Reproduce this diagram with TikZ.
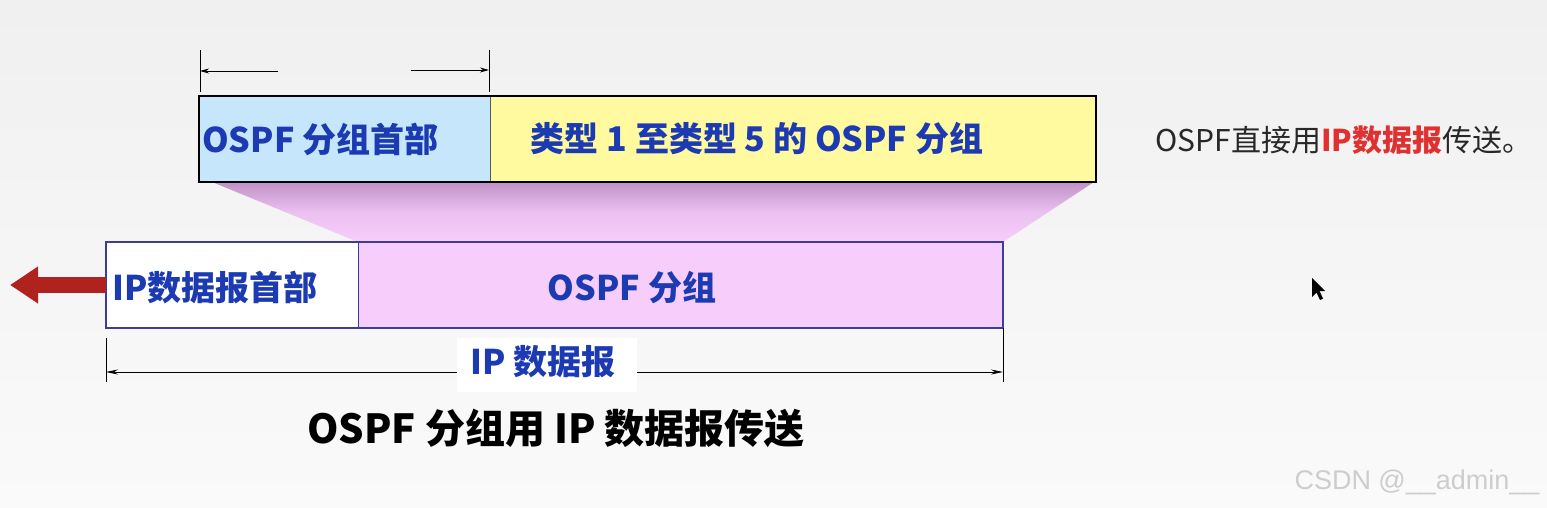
\documentclass[tikz,border=0pt]{standalone}
\usepackage{fontspec}
\setmainfont{Noto Sans CJK SC}
\newfontfamily\wmfont{Liberation Sans}
\usetikzlibrary{arrows.meta}
\definecolor{bgtop}{RGB}{240,240,240}
\definecolor{bgbot}{RGB}{250,250,250}
\definecolor{hdrblue}{RGB}{198,231,251}
\definecolor{bodyyel}{RGB}{255,250,160}
\definecolor{pinkfill}{RGB}{246,205,251}
\definecolor{mauve}{RGB}{192,145,198}
\definecolor{txtblue}{RGB}{28,58,178}
\definecolor{boxblue}{RGB}{60,60,156}
\definecolor{arrred}{RGB}{176,34,30}
\definecolor{hlred}{RGB}{224,48,48}
\definecolor{graytxt}{RGB}{40,40,40}
\definecolor{wmgray}{RGB}{205,205,205}
\tikzset{
  cell/.style={inner sep=0pt, outer sep=0pt},
  bluetxt/.style={inner sep=0pt, text=txtblue, font=\fontsize{34}{40}\selectfont\bfseries},
  dimline/.style={line width=0.9pt, black},
  dimarrow/.style={line width=0.9pt, black, -{Stealth[length=9pt,width=5pt]}},
}
\begin{document}
\begin{tikzpicture}[x=1pt,y=-1pt]
\useasboundingbox (0,0) rectangle (1547,508);
\shade[top color=bgtop, bottom color=bgbot] (0,0) rectangle (1547,508);

% trapezoid connecting the two bars
\shade[top color=mauve, bottom color=pinkfill, middle color=pinkfill!80!mauve]
  (212,182) -- (1094,182) -- (1003,242) -- (358,242) -- cycle;

% top bar
\node[cell, fill=hdrblue, minimum width=291pt, minimum height=86pt] (ohdr) at (344.5,139) {};
\node[cell, fill=bodyyel, minimum width=606pt, minimum height=86pt] (obody) at (793,139) {};
\draw[line width=0.8pt, gray!70!black] (ohdr.north east) -- (ohdr.south east);
\draw[line width=1.8pt, black] (ohdr.north west) rectangle (obody.south east);
\node[bluetxt, anchor=west] (thdr) at (202,139) {OSPF 分组首部};
\node[bluetxt] (tbody) at (757,139) {类型 1 至类型 5 的 OSPF 分组};

% top dimension
\coordinate (tl1) at (200,50);
\coordinate (tl2) at (200,92);
\coordinate (tr1) at (489,50);
\coordinate (tr2) at (489,92);
\coordinate (al0) at (278,71);
\coordinate (al1) at (200,71);
\coordinate (ar0) at (411,70);
\coordinate (ar1) at (489,70);
\draw[dimline] (tl1) -- (tl2);
\draw[dimline] (tr1) -- (tr2);
\draw[dimarrow] (al0) -- (al1);
\draw[dimarrow] (ar0) -- (ar1);

% bottom bar
\node[cell, fill=white, minimum width=252pt, minimum height=86pt] (iphdr) at (232,285) {};
\node[cell, fill=pinkfill, minimum width=645pt, minimum height=86pt] (ipbody) at (680.5,285) {};
\draw[line width=1pt, boxblue] (iphdr.north east) -- (iphdr.south east);
\draw[line width=1.8pt, boxblue] (iphdr.north west) rectangle (ipbody.south east);
\node[bluetxt, anchor=west] (tiphdr) at (112,288) {IP数据报首部};
\node[bluetxt] (tipbody) at (632,288) {OSPF 分组};

% red arrow to the left
\coordinate (redtip) at (10,285);
\draw[arrred, line width=16pt, -{Triangle[length=28pt,width=35pt]}] (iphdr.west) -- (redtip);

% bottom dimension
\coordinate (bl1) at (106,338);
\coordinate (bl2) at (106,382);
\coordinate (br1) at (1003,328);
\coordinate (br2) at (1003,382);
\coordinate (bla) at (106,372);
\coordinate (bra) at (1003,372);
\draw[dimline] (bl1) -- (bl2);
\draw[dimline] (br1) -- (br2);
\draw[dimline, {Stealth[length=12pt,width=5pt]}-{Stealth[length=12pt,width=5pt]}] (bla) -- (bra);
\node[fill=white, minimum width=180pt, minimum height=54pt, inner sep=0pt] (dimlbl) at (547,365) {};
\node[bluetxt] (dimtxt) at (543,362) {IP 数据报};

% title
\node[inner sep=0pt, text=black, font=\fontsize{40}{46}\selectfont\bfseries] (title) at (556,428) {OSPF 分组用 IP 数据报传送};

% side note
\node[inner sep=0pt, text=graytxt, font=\fontsize{30}{36}\selectfont] (note) at (1344,140)
  {OSPF直接用{\bfseries\color{hlred}IP数据报}传送。};

% mouse pointer
\fill[black] (1312,278) -- (1312,297) -- (1316.5,292.5) -- (1320,300) -- (1323,298.5) -- (1319.5,291) -- (1325,291) -- cycle;

% watermark
\node[inner sep=0pt, text=wmgray, font=\wmfont\fontsize{27}{32}\selectfont] (wm) at (1417,482) {CSDN @\_\_admin\_\_};
\end{tikzpicture}
\end{document}
